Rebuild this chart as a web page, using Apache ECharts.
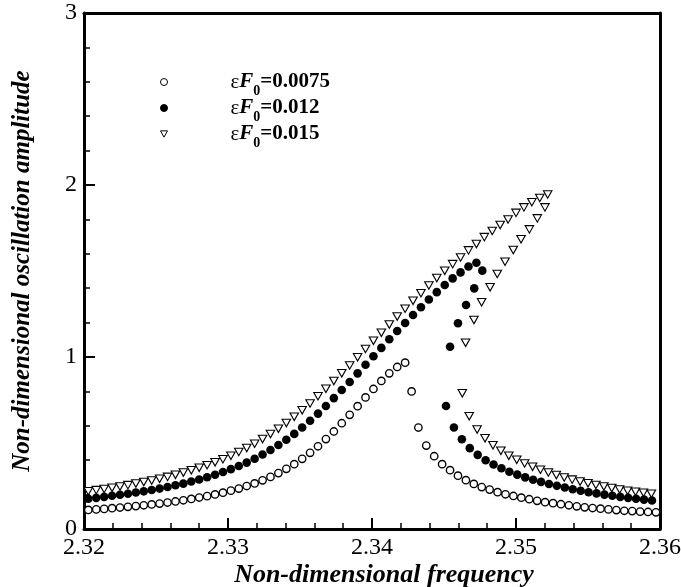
<!DOCTYPE html>
<html>
<head>
<meta charset="utf-8">
<script src="https://cdn.jsdelivr.net/npm/echarts/dist/echarts.min.js"></script>
<style>
html,body{margin:0;padding:0;background:#fff;overflow:hidden;}
#chart{width:681px;height:587px;}
</style>
</head>
<body>
<div id="chart"></div>
<script>
// ---- data ----
var xTicks = [2.32, 2.33, 2.34, 2.35, 2.36];
var yTicks = [0, 1, 2, 3];
var legendValues = ['0.0075', '0.012', '0.015'];

// eps*F0 = 0.0075 (open circles)
var freq0075 = [
  2.32030,2.32085,2.32140,2.32195,2.32250,2.32305,2.32360,2.32415,2.32470,2.32525,
  2.32580,2.32635,2.32690,2.32745,2.32800,2.32855,2.32910,2.32965,2.33020,2.33075,
  2.33130,2.33185,2.33240,2.33295,2.33350,2.33405,2.33460,2.33515,2.33570,2.33625,
  2.33680,2.33735,2.33790,2.33845,2.33900,2.33955,2.34010,2.34065,2.34120,2.34175,
  2.34230,
  2.34275,
  2.34322,2.34377,2.34432,2.34487,2.34542,2.34597,2.34652,2.34707,2.34762,2.34817,
  2.34872,2.34927,2.34982,2.35037,2.35092,2.35147,2.35202,2.35257,2.35312,2.35367,
  2.35422,2.35477,2.35532,2.35587,2.35642,2.35697,2.35752,2.35807,2.35862,2.35917,
  2.35972
];
var amp0075 = [
  0.111,0.114,0.117,0.121,0.125,0.129,0.133,0.138,0.143,0.148,
  0.154,0.160,0.167,0.175,0.183,0.191,0.201,0.211,0.223,0.235,
  0.250,0.265,0.283,0.303,0.325,0.350,0.377,0.408,0.443,0.481,
  0.523,0.567,0.615,0.664,0.714,0.765,0.814,0.861,0.905,0.942,
  0.967,
  0.800,
  0.590,0.485,0.423,0.377,0.342,0.310,0.284,0.262,0.244,0.229,
  0.214,0.202,0.192,0.182,0.173,0.164,0.156,0.150,0.144,0.138,
  0.132,0.126,0.122,0.118,0.114,0.110,0.106,0.104,0.101,0.099,
  0.097
];

// eps*F0 = 0.012 (filled circles)
var freq012 = [
  2.32030,2.32085,2.32140,2.32195,2.32250,2.32305,2.32360,2.32415,2.32470,2.32525,
  2.32580,2.32635,2.32690,2.32745,2.32800,2.32855,2.32910,2.32965,2.33020,2.33075,
  2.33130,2.33185,2.33240,2.33295,2.33350,2.33405,2.33460,2.33515,2.33570,2.33625,
  2.33680,2.33735,2.33790,2.33845,2.33900,2.33955,2.34010,2.34065,2.34120,2.34175,
  2.34230,2.34285,2.34340,2.34395,2.34450,2.34505,2.34560,2.34615,2.34670,2.34725,
  2.34766,2.34710,2.34653,2.34597,2.34542,
  2.34514,2.34569,2.34624,2.34679,2.34734,2.34789,2.34844,2.34899,2.34954,2.35009,
  2.35064,2.35119,2.35174,2.35229,2.35284,2.35339,2.35394,2.35449,2.35504,2.35559,
  2.35614,2.35669,2.35724,2.35779,2.35834,2.35889,2.35944
];
var amp012 = [
  0.176,0.181,0.187,0.193,0.199,0.205,0.212,0.219,0.227,0.235,
  0.244,0.254,0.264,0.276,0.288,0.301,0.315,0.331,0.348,0.366,
  0.386,0.408,0.433,0.459,0.488,0.519,0.553,0.590,0.629,0.671,
  0.715,0.761,0.808,0.855,0.905,0.955,1.004,1.053,1.103,1.151,
  1.198,1.244,1.289,1.334,1.377,1.419,1.457,1.492,1.526,1.548,
  1.502,1.399,1.302,1.196,1.060,
  0.715,0.590,0.522,0.470,0.431,0.400,0.375,0.353,0.333,0.316,
  0.300,0.286,0.274,0.262,0.251,0.241,0.231,0.222,0.214,0.207,
  0.200,0.193,0.187,0.181,0.176,0.171,0.166
];

// eps*F0 = 0.015 (open down-triangles)
var freq015 = [
  2.32030,2.32085,2.32140,2.32195,2.32250,2.32305,2.32360,2.32415,2.32470,2.32525,
  2.32580,2.32635,2.32690,2.32745,2.32800,2.32855,2.32910,2.32965,2.33020,2.33075,
  2.33130,2.33185,2.33240,2.33295,2.33350,2.33405,2.33460,2.33515,2.33570,2.33625,
  2.33680,2.33735,2.33790,2.33845,2.33900,2.33955,2.34010,2.34065,2.34120,2.34175,
  2.34230,2.34285,2.34340,2.34395,2.34450,2.34505,2.34560,2.34615,2.34670,2.34725,
  2.34780,2.34835,2.34890,2.34945,2.35000,2.35055,2.35110,2.35165,2.35220,
  2.35201,2.35148,2.35093,2.35035,2.34981,2.34924,2.34870,2.34820,2.34761,2.34708,2.34650,
  2.34627,
  2.34675,2.34730,2.34785,2.34840,2.34895,2.34950,2.35005,2.35060,2.35115,2.35170,
  2.35225,2.35280,2.35335,2.35390,2.35445,2.35500,2.35555,2.35610,2.35665,2.35720,
  2.35775,2.35830,2.35885,2.35940
];
var amp015 = [
  0.220,0.226,0.233,0.240,0.247,0.255,0.264,0.273,0.282,0.292,
  0.303,0.315,0.328,0.341,0.356,0.371,0.388,0.406,0.426,0.448,
  0.471,0.496,0.523,0.552,0.583,0.616,0.652,0.690,0.730,0.772,
  0.815,0.860,0.905,0.951,0.998,1.047,1.094,1.141,1.189,1.235,
  1.281,1.327,1.371,1.416,1.459,1.501,1.540,1.579,1.620,1.657,
  1.697,1.733,1.767,1.800,1.838,1.870,1.900,1.925,1.945,
  1.870,1.806,1.742,1.684,1.622,1.554,1.483,1.405,1.318,1.215,1.083,
  0.789,
  0.655,0.578,0.527,0.487,0.455,0.426,0.402,0.381,0.362,0.345,
  0.329,0.314,0.300,0.287,0.276,0.266,0.256,0.247,0.238,0.230,
  0.223,0.217,0.211,0.205
];

function pairs(xs, ys) { return xs.map(function (x, i) { return [x, ys[i]]; }); }

var FONT = 'Liberation Serif, Times New Roman, serif';
var names = legendValues.map(function (v) { return '\u03b5F0=' + v; });
var legendIcons = ['circle', 'circle', 'path://M0,0L10,0L5,9Z'];

var chart = echarts.init(document.getElementById('chart'), null, { renderer: 'canvas' });

var richLegend = {
  e: { fontFamily: FONT, fontSize: 21, fontWeight: 'normal', color: '#000', lineHeight: 26, verticalAlign: 'middle' },
  f: { fontFamily: FONT, fontSize: 21, fontWeight: 'bold', fontStyle: 'italic', color: '#000', lineHeight: 26, verticalAlign: 'middle' },
  s: { fontFamily: FONT, fontSize: 14, fontWeight: 'bold', color: '#000', lineHeight: 14, padding: [18, 0, 0, 0], verticalAlign: 'middle' },
  v: { fontFamily: FONT, fontSize: 21, fontWeight: 'bold', color: '#000', lineHeight: 26, verticalAlign: 'middle' }
};
var legendTops = [66, 92, 118];

var axisCommon = {
  axisLine: { show: true, onZero: false, lineStyle: { color: '#000', width: 3 } },
  splitLine: { show: false },
  minorSplitLine: { show: false }
};

var option = {
  animation: false,
  backgroundColor: '#fff',
  grid: { left: 84, right: 21, top: 13, bottom: 58, containLabel: false, outerBoundsMode: 'none' },
  legend: legendValues.map(function (v, i) {
    return {
      data: [{ name: names[i], icon: legendIcons[i] }],
      left: 160, top: legendTops[i], padding: 0,
      itemWidth: 7, itemHeight: 7, selectedMode: false,
      itemStyle: { borderWidth: 1 },
      formatter: function () { return '{e|\u03b5}{f|F}{s|0}{v|=' + v + '}'; },
      textStyle: { padding: [0, 0, 0, 58], rich: richLegend }
    };
  }),
  xAxis: [
    Object.assign({}, axisCommon, {
      type: 'value', position: 'bottom', min: xTicks[0], max: xTicks[xTicks.length - 1], interval: 0.01,
      axisTick: { show: true, inside: true, length: 11, lineStyle: { color: '#000', width: 2 } },
      minorTick: { show: true, splitNumber: 5, length: 6, lineStyle: { color: '#000', width: 1.5 } },
      axisLabel: { show: true, fontFamily: FONT, fontSize: 24, color: '#000', margin: 7,
        showMinLabel: true, showMaxLabel: true, hideOverlap: false,
        formatter: function (v) { return v.toFixed(2); } },
      name: 'Non-dimensional frequency', nameLocation: 'middle', nameGap: 33, nameMoveOverlap: false,
      nameTextStyle: { fontFamily: FONT, fontSize: 26, fontWeight: 'bold', fontStyle: 'italic', color: '#000',
        padding: [0, 0, 0, 24] }
    }),
    Object.assign({}, axisCommon, {
      type: 'value', position: 'top', min: xTicks[0], max: xTicks[xTicks.length - 1], interval: 0.01,
      axisTick: { show: false }, minorTick: { show: false }, axisLabel: { show: false }
    })
  ],
  yAxis: [
    Object.assign({}, axisCommon, {
      type: 'value', position: 'left', min: yTicks[0], max: yTicks[yTicks.length - 1], interval: 1,
      axisTick: { show: true, inside: true, length: 11, lineStyle: { color: '#000', width: 2 } },
      minorTick: { show: true, splitNumber: 5, length: 6, lineStyle: { color: '#000', width: 1.5 } },
      axisLabel: { show: true, fontFamily: FONT, fontSize: 24, color: '#000', margin: 7, hideOverlap: false },
      name: 'Non-dimensional oscillation amplitude', nameLocation: 'middle', nameGap: 49, nameRotate: 90,
      nameMoveOverlap: false,
      nameTextStyle: { fontFamily: FONT, fontSize: 25, fontWeight: 'bold', fontStyle: 'italic', color: '#000' }
    }),
    Object.assign({}, axisCommon, {
      type: 'value', position: 'right', min: yTicks[0], max: yTicks[yTicks.length - 1], interval: 1,
      axisTick: { show: false }, minorTick: { show: false }, axisLabel: { show: false }
    })
  ],
  series: [
    {
      type: 'scatter', name: names[0], xAxisIndex: 0, yAxisIndex: 0,
      data: pairs(freq0075, amp0075),
      symbol: 'circle', symbolSize: 7.4,
      itemStyle: { color: '#fff', borderColor: '#000', borderWidth: 1.35, opacity: 1 },
      emphasis: { disabled: true }, clip: false
    },
    {
      type: 'scatter', name: names[1], xAxisIndex: 0, yAxisIndex: 0,
      data: pairs(freq012, amp012),
      symbol: 'circle', symbolSize: 8.6,
      itemStyle: { color: '#000', borderColor: '#000', borderWidth: 0, opacity: 1 },
      emphasis: { disabled: true }, clip: false
    },
    {
      type: 'scatter', name: names[2], xAxisIndex: 0, yAxisIndex: 0,
      data: pairs(freq015, amp015),
      symbol: 'triangle', symbolRotate: 180, symbolSize: [8.5, 7.5],
      itemStyle: { color: '#fff', borderColor: '#000', borderWidth: 1.1, opacity: 1 },
      emphasis: { disabled: true }, clip: false
    }
  ]
};
chart.setOption(option);
</script>
</body>
</html>
